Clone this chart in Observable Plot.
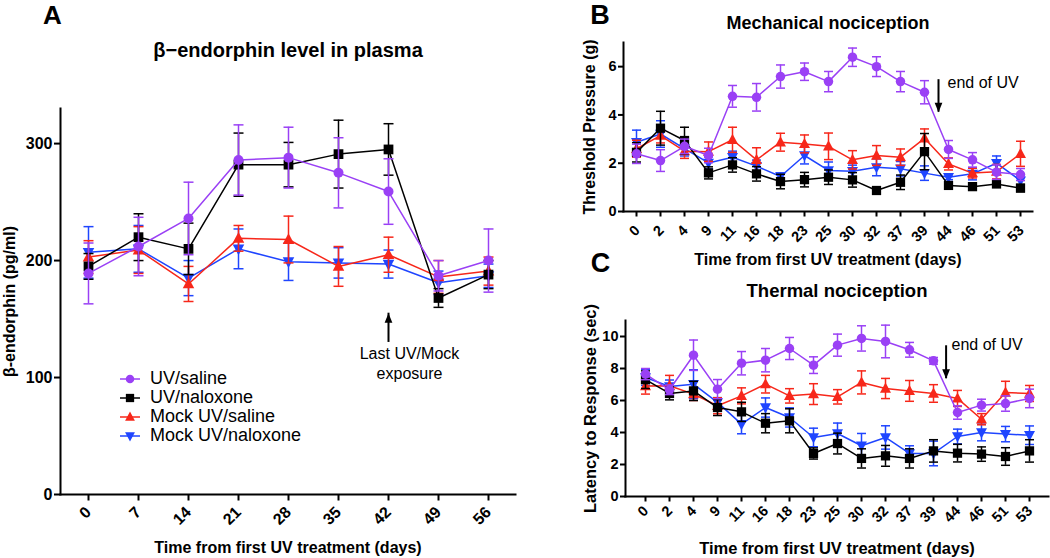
<!DOCTYPE html>
<html><head><meta charset="utf-8">
<script src="https://cdn.jsdelivr.net/npm/d3@7"></script>
<script src="https://cdn.jsdelivr.net/npm/@observablehq/plot@0.6"></script>
<style>
body{margin:0;background:#fff;}
#root{position:relative;width:1050px;height:558px;overflow:hidden;font-family:'Liberation Sans',Arial,Helvetica,sans-serif;background:#fff;}
#root > svg{position:absolute;}
#legend{position:absolute;left:119px;top:369px;font-size:18px;line-height:19px;color:#000;}
#legend div{display:flex;align-items:center;height:19px;}
#legend svg{margin-right:9px;}
</style></head><body><div id="root"><div id="legend"></div></div>
<script>
// ---------- data ----------
const seriesNames = ["UV/saline", "UV/naloxone", "Mock UV/saline", "Mock UV/naloxone"];
const seriesColors = ["#9a40f5", "#000000", "#f7271a", "#1f45ff"];

// Panel A: beta-endorphin (pg/ml)
const daysA = [0, 7, 14, 21, 28, 35, 42, 49, 56];
const aUVsaline      = [189, 212, 236, 286, 288, 275, 259, 187, 200];
const aUVsalineErr   = [26, 25, 31, 30, 26, 30, 28, 13, 27];
const aUVnaloxone    = [195, 220, 210, 282, 282, 291, 295, 168, 188];
const aUVnaloxoneErr = [11, 20, 22, 27, 19, 29, 22, 8, 12];
const aMockSaline    = [203, 209, 180, 219, 218, 195, 205, 186, 191];
const aMockSalineErr = [14, 20, 15, 11, 20, 17, 15, 14, 12];
const aMockNalox     = [207, 210, 185, 210, 199, 198, 197, 181, 187];
const aMockNaloxErr  = [22, 20, 15, 17, 16, 13, 12, 10, 10];
const yTicksA = [0, 100, 200, 300];

// Panels B and C share days
const daysBC = [0, 2, 4, 9, 11, 16, 18, 23, 25, 30, 32, 37, 39, 44, 46, 51, 53];

// Panel B: Threshold pressure (g)
const bUVsaline      = [2.39, 2.11, 2.7, 2.32, 4.77, 4.73, 5.59, 5.79, 5.38, 6.39, 6.0, 5.38, 4.94, 2.57, 2.14, 1.63, 1.53];
const bUVsalineErr   = [0.4, 0.45, 0.3, 0.3, 0.45, 0.57, 0.48, 0.36, 0.42, 0.38, 0.41, 0.42, 0.48, 0.37, 0.3, 0.3, 0.25];
const bUVnaloxone    = [2.45, 3.45, 2.94, 1.6, 1.93, 1.56, 1.24, 1.32, 1.42, 1.31, 0.87, 1.21, 2.48, 1.08, 1.03, 1.14, 0.97];
const bUVnaloxoneErr = [0.4, 0.7, 0.55, 0.25, 0.3, 0.3, 0.3, 0.3, 0.3, 0.3, 0.1, 0.3, 0.75, 0.1, 0.1, 0.1, 0.15];
const bMockSaline    = [2.6, 3.14, 2.5, 2.48, 2.97, 2.14, 2.87, 2.8, 2.7, 2.14, 2.32, 2.25, 3.03, 1.97, 1.59, 1.65, 2.39];
const bMockSalineErr = [0.35, 0.3, 0.3, 0.4, 0.52, 0.5, 0.37, 0.37, 0.55, 0.38, 0.41, 0.34, 0.39, 0.25, 0.2, 0.3, 0.52];
const bMockNalox     = [2.87, 3.21, 2.6, 2.01, 2.25, 1.88, 1.45, 2.32, 1.7, 1.67, 1.83, 1.77, 1.59, 1.42, 1.56, 2.0, 1.28];
const bMockNaloxErr  = [0.5, 0.55, 0.3, 0.25, 0.25, 0.25, 0.15, 0.35, 0.35, 0.25, 0.35, 0.3, 0.3, 0.1, 0.25, 0.3, 0.2];
const yTicksB = [0, 2, 4, 6];

// Panel C: Latency to response (sec)
const cUVsaline      = [7.65, 6.67, 8.83, 6.71, 8.33, 8.52, 9.25, 8.21, 9.46, 9.88, 9.69, 9.17, 8.48, 5.25, 5.71, 5.81, 6.13];
const cUVsalineErr   = [0.35, 0.3, 0.95, 0.6, 0.73, 0.73, 0.69, 0.52, 0.69, 0.79, 1.02, 0.46, 0.21, 0.42, 0.37, 0.48, 0.58];
const cUVnaloxone    = [7.3, 6.44, 6.6, 5.56, 5.29, 4.58, 4.73, 2.69, 3.31, 2.38, 2.54, 2.38, 2.85, 2.71, 2.65, 2.5, 2.85];
const cUVnaloxoneErr = [0.55, 0.4, 0.6, 0.5, 0.6, 0.6, 0.75, 0.35, 0.65, 0.6, 0.65, 0.6, 0.7, 0.55, 0.45, 0.55, 0.7];
const cMockSaline    = [6.9, 6.92, 6.4, 5.67, 6.29, 7.02, 6.29, 6.4, 6.23, 7.13, 6.75, 6.6, 6.44, 6.13, 4.83, 6.5, 6.44];
const cMockSalineErr = [0.5, 0.65, 0.4, 0.5, 0.5, 0.55, 0.45, 0.65, 0.45, 0.72, 0.63, 0.65, 0.55, 0.5, 0.35, 0.7, 0.5];
const cMockNalox     = [7.44, 6.88, 7.02, 5.88, 4.52, 5.56, 4.94, 3.69, 3.94, 3.17, 3.69, 2.69, 2.69, 3.75, 4.0, 3.9, 3.83];
const cMockNaloxErr  = [0.5, 0.4, 0.9, 0.3, 0.6, 0.6, 0.6, 0.58, 0.65, 0.77, 0.73, 0.48, 0.77, 0.46, 0.52, 0.48, 0.58];
const yTicksC = [0, 2, 4, 6, 8, 10];

// annotations
const annA = [{day: 42, label: "Last UV/Mock\nexposure", y: 112.6, tail: 130, tip: 155}];
const annB = [{day: 39, label: "end of UV", y: 5.38, tail: 5.46, tip: 4.11}];
const annC = [{day: 39, label: "end of UV", y: 9.54, tail: 9.42, tip: 7.36}];

// ---------- symbols ----------
const rOf = s => Math.sqrt(s / Math.PI);
const capSym = {draw(ctx, s){ const r = rOf(s); ctx.moveTo(-r, 0); ctx.lineTo(r, 0); }};
const tickDownSym = {draw(ctx, s){ const r = rOf(s); ctx.moveTo(0, 0); ctx.lineTo(0, r); }};
const triUp = {draw(ctx, s){ const r = rOf(s); ctx.moveTo(0, -r*1.15); ctx.lineTo(r*1.05, r*0.8); ctx.lineTo(-r*1.05, r*0.8); ctx.closePath(); }};
const triDown = {draw(ctx, s){ const r = rOf(s); ctx.moveTo(0, r*1.15); ctx.lineTo(r*1.05, -r*0.8); ctx.lineTo(-r*1.05, -r*0.8); ctx.closePath(); }};
const headUp = {draw(ctx, s){ const r = rOf(s); ctx.moveTo(0, 0); ctx.lineTo(r*0.9, r*2.2); ctx.lineTo(-r*0.9, r*2.2); ctx.closePath(); }};
const headDown = {draw(ctx, s){ const r = rOf(s); ctx.moveTo(0, 0); ctx.lineTo(r*0.9, -r*2.2); ctx.lineTo(-r*0.9, -r*2.2); ctx.closePath(); }};
const seriesSymbols = ["circle", "square", triUp, triDown];
const seriesR = [5, 5.5, 5.5, 5.5];

const FONT = "'Liberation Sans', Arial, Helvetica, sans-serif";

function panel(o) {
  const groups = o.means.map((m, k) => ({
    color: seriesColors[k], symbol: seriesSymbols[k], r: seriesR[k] * o.markScale,
    rows: o.days.map((d, i) => ({day: d, v: m[i], e: o.errs[k][i]}))
  }));
  const marks = [];
  for (const k of [3, 2, 1, 0]) {
    const g = groups[k];
    marks.push(
      Plot.ruleX(g.rows, {x: "day", y1: d => d.v - d.e, y2: d => d.v + d.e, stroke: g.color, strokeWidth: 1.5}),
      Plot.dot(g.rows, {x: "day", y: d => d.v - d.e, symbol: capSym, r: o.capR, stroke: g.color, strokeWidth: 1.5, fill: "none"}),
      Plot.dot(g.rows, {x: "day", y: d => d.v + d.e, symbol: capSym, r: o.capR, stroke: g.color, strokeWidth: 1.5, fill: "none"}),
      Plot.line(g.rows, {x: "day", y: "v", stroke: g.color, strokeWidth: 1.5}),
      Plot.dot(g.rows, {x: "day", y: "v", symbol: g.symbol, r: g.r, fill: g.color, stroke: "none"})
    );
  }
  // annotation
  marks.push(
    Plot.ruleX(o.ann, {x: "day", y1: "tail", y2: "tip", dx: o.arrowDx, stroke: "black", strokeWidth: 2}),
    Plot.dot(o.ann, {x: "day", y: "tip", dx: o.arrowDx, symbol: o.head, r: 4.3, fill: "black", stroke: "none"}),
    Plot.text(o.ann, {x: "day", y: "y", text: "label", dx: o.textDx, textAnchor: o.textAnchor, fontWeight: "normal", fontSize: 16, lineHeight: 1.25, lineAnchor: "middle"})
  );
  // axes: x ticks (short marks below the axis) and rotated labels
  marks.push(
    Plot.dot(o.days, {x: d => d, y: () => o.yDomain[0], symbol: tickDownSym, r: o.tickSize, stroke: "black", strokeWidth: 2, fill: "none"}),
    Plot.text(o.days, {x: d => d, text: d => String(d), frameAnchor: "bottom", rotate: -45, textAnchor: "end", lineAnchor: "middle", dx: o.xtDx, dy: o.xtDy, fontSize: o.tickFont}),
    Plot.axisY({ticks: o.yTicks, tickFormat: d3.format("d"), tickSize: o.tickSize, tickPadding: 2, fontSize: o.tickFont, strokeWidth: 2, label: null}),
    Plot.frame({anchor: "left", strokeWidth: 2}),
    Plot.frame({anchor: "bottom", strokeWidth: 2}),
    Plot.text([o.title], {text: d => d, frameAnchor: "top", dy: o.titleDy, fontSize: o.titleSize, textAnchor: "middle", lineAnchor: "middle"}),
    Plot.text([o.xLabel], {text: d => d, frameAnchor: "bottom", dy: o.xLabelDy, fontSize: o.xLabelSize, textAnchor: "middle", lineAnchor: "middle"}),
    Plot.text([o.yLabel], {text: d => d, frameAnchor: "left", rotate: -90, dx: o.yLabelDx, fontSize: o.yLabelSize, textAnchor: "middle", lineAnchor: "middle"}),
    Plot.text([o.letter], {text: d => d, frameAnchor: "top-left", dx: o.letterDx, dy: o.letterDy, fontSize: o.letterSize, textAnchor: "middle", lineAnchor: "middle"})
  );
  const svg = Plot.plot({
    width: o.width, height: o.height,
    marginTop: o.margin[0], marginRight: o.margin[1], marginBottom: o.margin[2], marginLeft: o.margin[3],
    x: {type: "point", domain: o.days, padding: 0.5, axis: null},
    y: {domain: o.yDomain, axis: null},
    style: {background: "transparent", fontFamily: FONT, fontWeight: "bold", color: "black", overflow: "visible"},
    marks
  });
  svg.style.left = o.left + "px";
  svg.style.top = o.top + "px";
  document.getElementById("root").appendChild(svg);
}

const xTitle = "Time from first UV treatment (days)";

panel({
  left: 0, top: 0, width: 525, height: 558, margin: [108, 10, 64, 60],
  days: daysA, yDomain: [0, 330], yTicks: yTicksA,
  means: [aUVsaline, aUVnaloxone, aMockSaline, aMockNalox],
  errs: [aUVsalineErr, aUVnaloxoneErr, aMockSalineErr, aMockNaloxErr],
  markScale: 1, capR: 5, tickFont: 16, tickSize: 6, xtDx: 0, xtDy: 15,
  ann: annA, head: headUp, arrowDx: 0, textDx: 21, textAnchor: "middle",
  title: "β−endorphin level in plasma", titleSize: 20, titleDy: -58,
  xLabel: xTitle, xLabelSize: 16, xLabelDy: 53,
  yLabel: "β-endorphin (pg/ml)", yLabelSize: 16, yLabelDx: -51,
  letter: "A", letterSize: 26, letterDx: -8, letterDy: -93
});

panel({
  left: 530, top: 0, width: 520, height: 270, margin: [42, 18, 59, 93],
  days: daysBC, yDomain: [0, 7], yTicks: yTicksB,
  means: [bUVsaline, bUVnaloxone, bMockSaline, bMockNalox],
  errs: [bUVsalineErr, bUVnaloxoneErr, bMockSalineErr, bMockNaloxErr],
  markScale: 0.95, capR: 4.5, tickFont: 14.5, tickSize: 5, xtDx: 1, xtDy: 16.5,
  ann: annB, head: headDown, arrowDx: 14, textDx: 23, textAnchor: "start",
  title: "Mechanical nociception", titleSize: 18, titleDy: -19.3,
  xLabel: xTitle, xLabelSize: 16, xLabelDy: 48,
  yLabel: "Threshold Pressure (g)", yLabelSize: 16, yLabelDx: -33.5,
  letter: "B", letterSize: 27, letterDx: -23.5, letterDy: -27
});

panel({
  left: 530, top: 245, width: 520, height: 313, margin: [75, 2, 62, 95],
  days: daysBC, yDomain: [0, 11], yTicks: yTicksC,
  means: [cUVsaline, cUVnaloxone, cMockSaline, cMockNalox],
  errs: [cUVsalineErr, cUVnaloxoneErr, cMockSalineErr, cMockNaloxErr],
  markScale: 0.95, capR: 4.5, tickFont: 14.5, tickSize: 5, xtDx: 0.5, xtDy: 12,
  ann: annC, head: headDown, arrowDx: 12.6, textDx: 18, textAnchor: "start",
  title: "Thermal nociception", titleSize: 18.5, titleDy: -29.3,
  xLabel: xTitle, xLabelSize: 16.5, xLabelDy: 52,
  yLabel: "Latency to Response (sec)", yLabelSize: 16.5, yLabelDx: -35,
  letter: "C", letterSize: 27, letterDx: -25, letterDy: -57
});

// ---------- legend (panel A) ----------
const legend = d3.select("#legend");
seriesNames.forEach((name, k) => {
  const row = legend.append("div");
  const s = row.append("svg").attr("width", 22).attr("height", 14);
  s.append("line").attr("x1", 1).attr("x2", 21).attr("y1", 7).attr("y2", 7)
    .attr("stroke", seriesColors[k]).attr("stroke-width", 1.5);
  const sym = seriesSymbols[k];
  const type = sym === "circle" ? d3.symbolCircle : sym === "square" ? d3.symbolSquare : sym;
  const r = seriesR[k] * 0.85;
  s.append("path").attr("transform", "translate(11,7)")
    .attr("d", d3.symbol(type, Math.PI * r * r)()).attr("fill", seriesColors[k]);
  row.append("span").text(name);
});
</script></body></html>
